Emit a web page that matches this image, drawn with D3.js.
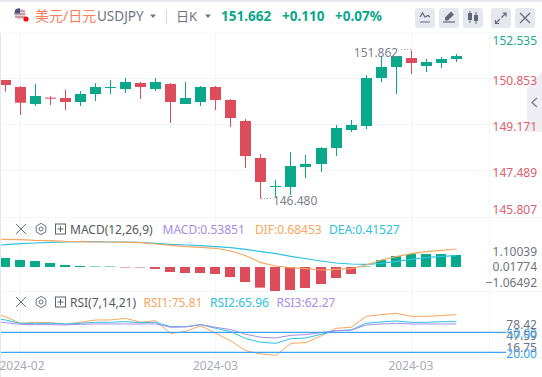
<!DOCTYPE html>
<html>
<head>
<meta charset="utf-8">
<script src="https://cdn.jsdelivr.net/npm/d3@7"></script>
<style>
html, body { margin: 0; padding: 0; background: #fff; overflow: hidden; }
text { font-family: "Noto Sans", "Noto Sans CJK SC", sans-serif; }
</style>
</head>
<body>
<svg id="chart" width="542" height="377"></svg>
<script>
// data, the first entry of every series sits just off the left edge
const opens = [150.9, 150.791, 150.536, 149.919, 150.148, 150.137, 149.991, 150.282, 150.5, 150.464, 150.682, 150.464, 150.645, 149.919, 149.991, 150.536, 150.064, 149.301, 147.956, 146.902, 146.902, 147.629, 147.738, 148.32, 148.974, 149.119, 150.863, 151.263, 151.59, 151.3, 151.409, 151.554];
const closes = [150.75, 150.609, 149.966, 150.209, 150.111, 149.991, 150.282, 150.536, 150.536, 150.718, 150.536, 150.718, 149.991, 150.137, 150.536, 150.064, 149.41, 148.029, 147.084, 146.939, 147.666, 147.738, 148.32, 149.046, 149.156, 150.863, 151.263, 151.663, 151.409, 151.445, 151.554, 151.662];
const highs = [151, 150.791, 150.573, 150.645, 150.209, 150.427, 150.391, 150.682, 150.791, 150.863, 150.718, 150.863, 150.682, 150.718, 150.573, 150.573, 150.1, 149.374, 148.102, 147.157, 148.174, 148.065, 148.356, 149.156, 149.337, 150.973, 151.663, 151.663, 151.862, 151.554, 151.627, 151.736];
const lows = [150.6, 150.366, 149.519, 149.846, 149.882, 149.701, 149.846, 150.028, 150.282, 150.318, 150.1, 150.391, 149.228, 149.919, 149.846, 149.701, 149.083, 147.593, 146.48, 146.55, 146.612, 147.229, 147.447, 148.029, 148.901, 149.01, 150.718, 150.282, 151.009, 151.081, 151.227, 151.445];
const macdBars = [0.42, 0.375, 0.29, 0.25, 0.167, 0.083, 0.04, 0.02, 0.02, -0.02, -0.02, -0.08, -0.21, -0.25, -0.25, -0.29, -0.42, -0.625, -0.86, -1.0, -0.96, -0.875, -0.71, -0.46, -0.29, 0.02, 0.29, 0.46, 0.54, 0.54, 0.54, 0.5];
const difLine = [1.167, 1.153, 1.139, 1.111, 1.097, 1.069, 1.056, 1.042, 1.042, 1.028, 1.014, 0.958, 0.903, 0.847, 0.819, 0.778, 0.667, 0.472, 0.181, 0.042, -0.028, -0.069, -0.125, -0.097, -0.069, 0.083, 0.292, 0.431, 0.556, 0.639, 0.694, 0.75];
const deaLine = [0.89, 0.931, 0.972, 1.0, 1.028, 1.042, 1.056, 1.056, 1.042, 1.042, 1.028, 0.986, 0.944, 0.917, 0.889, 0.847, 0.806, 0.736, 0.639, 0.556, 0.444, 0.347, 0.25, 0.167, 0.125, 0.111, 0.153, 0.236, 0.319, 0.389, 0.444, 0.472];
const rsi1 = [79.5, 73.5, 63.5, 65, 64.5, 62, 65, 68.5, 68.5, 71, 65, 67.5, 48, 51.5, 60, 48.5, 37, 22.5, 17.5, 15.5, 33.5, 34.5, 44.5, 56, 57.5, 74, 76.5, 78.5, 74, 74, 75, 76.5];
const rsi2 = [71, 68.5, 63.5, 63.5, 63.5, 62.5, 63.5, 65, 65, 66, 64.5, 65, 58.5, 58.5, 61.5, 56, 51, 40.5, 35, 33.5, 40.5, 41.5, 47, 52.5, 53.5, 63.5, 65.5, 67, 65, 65, 66, 66];
const rsi3 = [66, 64.5, 62, 61.5, 61.5, 61, 62, 62.5, 62.5, 62.5, 62.5, 62.5, 57.5, 58, 61.5, 57.5, 54, 47, 42.5, 41.5, 45.5, 46.5, 49.5, 52.5, 53, 61, 62.5, 63.5, 62.5, 62.5, 62.5, 62.5];
const priceTicks = [152.535, 150.853, 149.171, 147.489, 145.807];
const macdTicks = [1.10039, 0.01774, -1.06492];
const rsiTicks = [78.42, 47.59, 16.75];
const rsiLevels = [50, 20];
const dateLabels = ["2024-02", "2024-03", "2024-03"];
const dateIdx = [2, 15, 28];
const priceHigh = 151.862;
const priceLow = 146.48;

// colors
const upColor = "#0aa88b";
const downColor = "#dc4c5b";
const difColor = "#f8a660";
const deaColor = "#2cc2e2";
const rsi3Color = "#a98bec";
const levelColor = "#3ca4f6";
const gridColor = "#f4f5f9";
const axisTextColor = "#70737f";
const iconBg = "#e6e8f0";
const iconColor = "#62667a";

const svg = d3.select("#chart");
const idx = d3.range(opens.length);
const x = d3.scaleLinear().domain([0, opens.length - 1]).range([-9.73, 456.33]);
const priceY = d3.scaleLinear().domain([150.853, 145.807]).range([78.3, 217.1]);
const macdY = d3.scaleLinear().domain([0, 1]).range([267, 243]);
const macdTickY = d3.scaleLinear().domain([1.10039, -1.06492]).range([251.5, 282.5]);
const rsiY = d3.scaleLinear().domain([50, 20]).range([332.3, 352.3]);
const rsiTickY = d3.scaleLinear().domain([78.42, 16.75]).range([324.3, 347.3]);

// page frame
svg.append("rect").attr("width", 542).attr("height", 2).attr("fill", "#e8eaf0");
svg.append("rect").attr("x", 0).attr("y", 33).attr("width", 1).attr("height", 344).attr("fill", "#e3e5f0");
svg.append("rect").attr("x", 0).attr("y", 32.5).attr("width", 542).attr("height", 1).attr("fill", "#f6f7fa");

// grid
const gridG = svg.append("g");
[20, 215, 411].forEach(px => {
    gridG.append("rect").attr("x", px).attr("y", 33).attr("width", 1).attr("height", 325).attr("fill", gridColor);
});
gridG.append("rect").attr("x", 489).attr("y", 33).attr("width", 1).attr("height", 325).attr("fill", gridColor);
[78, 124, 170, 217, 291, 357].forEach(py => {
    gridG.append("rect").attr("x", 1).attr("y", py).attr("width", 541).attr("height", 1).attr("fill", gridColor);
});

// collapse tab
svg.append("path").attr("d", "M542 72L527 88V132H542Z").attr("fill", "#eeedf3");
svg.append("path").attr("d", "M537 98L532 102.5L537 107").attr("fill", "none").attr("stroke", "#7b7e8c").attr("stroke-width", 1.4);

// candles
const clipDefs = svg.append("defs").append("clipPath").attr("id", "plotClip");
clipDefs.append("rect").attr("x", 1).attr("y", 33).attr("width", 488).attr("height", 325);
const plot = svg.append("g").attr("clip-path", "url(#plotClip)");
const candleColor = i => closes[i] >= opens[i] ? upColor : downColor;
plot.selectAll(".wick").data(idx).join("rect")
    .attr("class", "wick")
    .attr("x", i => Math.floor(x(i)))
    .attr("width", 1)
    .attr("y", i => priceY(highs[i]))
    .attr("height", i => priceY(lows[i]) - priceY(highs[i]))
    .attr("fill", candleColor);
plot.selectAll(".body").data(idx).join("rect")
    .attr("class", "body")
    .attr("x", i => Math.floor(x(i)) - 5)
    .attr("width", 11)
    .attr("y", i => priceY(Math.max(opens[i], closes[i])))
    .attr("height", i => Math.max(1, Math.abs(priceY(opens[i]) - priceY(closes[i]))))
    .attr("fill", candleColor);

// high and low marks
const markColor = "#8b8d99";
const highX = x(highs.indexOf(priceHigh));
const lowX = x(lows.indexOf(priceLow));
svg.append("line").attr("x1", highX).attr("x2", highX - 12).attr("y1", priceY(priceHigh) - 1).attr("y2", priceY(priceHigh) - 1)
    .attr("stroke", markColor).attr("stroke-dasharray", "1,2");
svg.append("text").attr("x", highX - 13).attr("y", priceY(priceHigh) + 6).attr("text-anchor", "end")
    .attr("font-size", 12).attr("fill", "#7d7f8c").text(priceHigh.toFixed(3));
svg.append("line").attr("x1", lowX).attr("x2", lowX + 10).attr("y1", priceY(priceLow)).attr("y2", priceY(priceLow))
    .attr("stroke", markColor).attr("stroke-dasharray", "1,2");
svg.append("text").attr("x", lowX + 12).attr("y", priceY(priceLow) + 6.5)
    .attr("font-size", 12).attr("fill", "#7d7f8c").text(priceLow.toFixed(3));

// price axis
const priceAxis = svg.append("g").attr("transform", "translate(537,0)")
    .call(d3.axisLeft(priceY).tickValues(priceTicks).tickSize(0).tickPadding(0).tickFormat(d3.format(".3f")));
priceAxis.select(".domain").remove();
priceAxis.selectAll("text")
    .attr("font-size", 12)
    .attr("font-family", null)
    .attr("fill", (d, i) => i === 0 ? "#1eaa90" : "#e0606e")
    .attr("dy", (d, i) => i === 0 ? "12px" : i === priceTicks.length - 1 ? "-4px" : "6px");

// MACD panel
plot.selectAll(".macdBar").data(idx).join("rect")
    .attr("class", "macdBar")
    .attr("x", i => Math.floor(x(i)) - 5)
    .attr("width", 10)
    .attr("y", i => macdBars[i] >= 0 ? macdY(macdBars[i]) : macdY(0))
    .attr("height", i => Math.abs(macdY(macdBars[i]) - macdY(0)))
    .attr("fill", i => macdBars[i] >= 0 ? upColor : downColor);
const drawLine = (scale, values, color, width) => {
    plot.append("path")
        .attr("d", d3.line().x((d, i) => x(i)).y(d => scale(d))(values))
        .attr("fill", "none").attr("stroke", color).attr("stroke-width", width);
};
drawLine(macdY, deaLine, deaColor, 1.1);
drawLine(macdY, difLine, difColor, 1.1);
svg.selectAll(".macdTick").data(macdTicks).join("text")
    .attr("class", "macdTick")
    .attr("x", 537).attr("y", d => macdTickY(d) + 4.5).attr("text-anchor", "end")
    .attr("font-size", 12).attr("fill", axisTextColor)
    .text(d => d3.format(".5f")(d));

// RSI panel
rsiLevels.forEach(level => {
    svg.append("line").attr("x1", 1).attr("x2", 506).attr("y1", rsiY(level)).attr("y2", rsiY(level))
        .attr("stroke", levelColor).attr("stroke-width", 1.2);
});
drawLine(rsiY, rsi1, difColor, 1);
drawLine(rsiY, rsi2, deaColor, 1);
drawLine(rsiY, rsi3, rsi3Color, 1);
svg.selectAll(".rsiTick").data(rsiTicks).join("text")
    .attr("class", "rsiTick")
    .attr("x", 537).attr("y", d => rsiTickY(d) + 4.5).attr("text-anchor", "end")
    .attr("font-size", 12).attr("fill", axisTextColor)
    .text(d => d.toFixed(2));
svg.selectAll(".rsiLevel").data(rsiLevels).join("text")
    .attr("class", "rsiLevel")
    .attr("x", 537).attr("y", d => rsiY(d) + 5.5).attr("text-anchor", "end")
    .attr("font-size", 12).attr("fill", levelColor)
    .text(d => d.toFixed(2));

// dates
svg.selectAll(".dateLabel").data(dateLabels).join("text")
    .attr("class", "dateLabel")
    .attr("x", (d, i) => Math.max(x(dateIdx[i]) - 0.3, 22))
    .attr("y", 370)
    .attr("text-anchor", "middle")
    .attr("font-size", 12).attr("fill", "#a9abb8")
    .text(d => d);

// header
const addText = (px, py, str, color, size, weight) => svg.append("text")
    .attr("x", px).attr("y", py).attr("font-size", size).attr("fill", color)
    .attr("font-weight", weight || 400).text(str);
svg.append("circle").attr("cx", 20).attr("cy", 14).attr("r", 5.5).attr("fill", "#d9d6e0");
svg.append("path").attr("d", "M15 11H25M14.5 14H25.5M15 17H25").attr("stroke", "#c2616b").attr("stroke-width", 1);
svg.append("path").attr("d", "M15 10a5.5 5.5 0 0 1 5 -1.5v5h-5.5z").attr("fill", "#4c5282");
svg.append("circle").attr("cx", 26).attr("cy", 19).attr("r", 2.6).attr("fill", "#f00f0f");
addText(35, 21, "美元/日元", "#fb7f5d", 14);
addText(97, 21, "USDJPY", "#6f7387", 13.5);
addText(176, 20.5, "日K", "#6f7387", 13);
svg.append("path").attr("d", "M150 14.5H156L153 18Z M205 14.5H211L208 18Z").attr("fill", "#6f7387");
svg.append("rect").attr("x", 166).attr("y", 10).attr("width", 1).attr("height", 13).attr("fill", "#d4d6de");
addText(221, 20.5, "151.662", upColor, 13.5, 700);
addText(282, 20.5, "+0.110", upColor, 13.5, 700);
addText(335, 20.5, "+0.07%", upColor, 13.5, 700);

const iconX = [415, 439, 463, 491, 515];
svg.selectAll(".iconBox").data(iconX).join("rect")
    .attr("class", "iconBox")
    .attr("x", d => d).attr("y", 8).attr("width", 20).attr("height", 20).attr("rx", 3)
    .attr("fill", iconBg);
const iconPaths = [
    "M420 17L422.5 13L425 17L428 15.5L430 17M420 22H430",
    "M443 22H455",
    "M495.5 23.5L500 19M501.5 17.5L506 13M502.5 13H506V16.5M495.5 20V23.5H499",
    "M520 13L530 23M530 13L520 23"
];
iconPaths.forEach(d => {
    svg.append("path").attr("d", d).attr("fill", "none").attr("stroke", iconColor).attr("stroke-width", 1.2);
});
svg.append("path").attr("d", "M445 20.5V17.5L451 11.5L454 14.5L448 20.5Z").attr("fill", iconColor);
svg.append("path").attr("d", "M468 13h4v7h-4zM469.5 11h1v12h-1zM474 15h4v6h-4zM475.5 12h1v12h-1z").attr("fill", iconColor);

// indicator headers
const drawIndicatorTools = (cy) => {
    svg.append("path").attr("d", `M16 ${cy - 5}L26 ${cy + 5}M26 ${cy - 5}L16 ${cy + 5}`)
        .attr("stroke", "#6b6e7c").attr("stroke-width", 1);
    const hex = d3.range(6).map(k => {
        const a = Math.PI / 3 * k + Math.PI / 6;
        return [41 + 5.6 * Math.cos(a), cy + 5.6 * Math.sin(a)];
    });
    svg.append("path").attr("d", d3.line()(hex) + "Z").attr("fill", "none").attr("stroke", "#6b6e7c");
    svg.append("circle").attr("cx", 41).attr("cy", cy).attr("r", 2).attr("fill", "none").attr("stroke", "#6b6e7c");
    svg.append("rect").attr("x", 55.5).attr("y", cy - 5).attr("width", 10).attr("height", 10)
        .attr("fill", "none").attr("stroke", "#5d606c");
    svg.append("path").attr("d", `M57.5 ${cy}H63.5M60.5 ${cy - 3}V${cy + 3}`).attr("stroke", "#5d606c");
};
drawIndicatorTools(229);
addText(70, 234, "MACD(12,26,9)", "#55585f", 12);
addText(162.5, 234, "MACD:0.53851", rsi3Color, 12);
addText(255, 234, "DIF:0.68453", difColor, 12);
addText(329, 234, "DEA:0.41527", deaColor, 12);
drawIndicatorTools(302);
addText(70, 307, "RSI(7,14,21)", "#55585f", 12);
addText(143.5, 307, "RSI1:75.81", difColor, 12);
addText(210, 307, "RSI2:65.96", deaColor, 12);
addText(276.5, 307, "RSI3:62.27", rsi3Color, 12);
</script>
</body>
</html>
